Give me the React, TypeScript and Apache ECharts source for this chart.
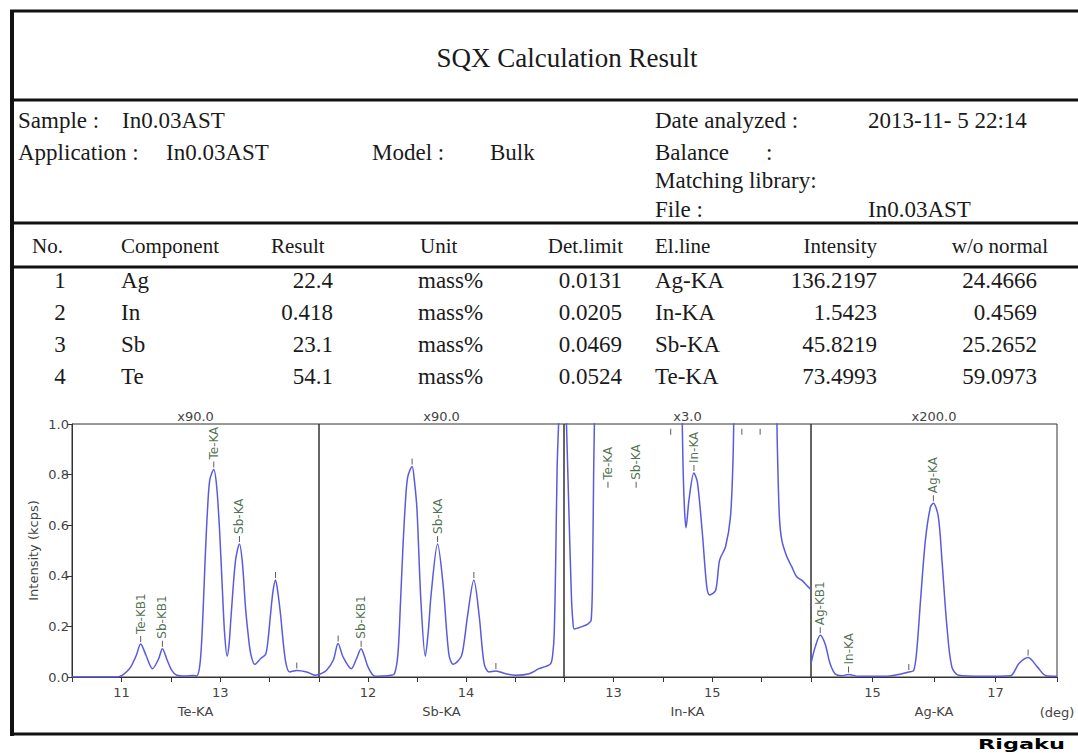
import React, { useEffect, useRef } from 'react';
import * as echarts from 'echarts';

// ---------- Report table data ----------
const reportTitle = 'SQX Calculation Result';
const tableHeaders = ['No.', 'Component', 'Result', 'Unit', 'Det.limit', 'El.line', 'Intensity', 'w/o normal'];
const rowNo = ['1', '2', '3', '4'];
const components = ['Ag', 'In', 'Sb', 'Te'];
const results = ['22.4', '0.418', '23.1', '54.1'];
const units = ['mass%', 'mass%', 'mass%', 'mass%'];
const detLimits = ['0.0131', '0.0205', '0.0469', '0.0524'];
const elLines = ['Ag-KA', 'In-KA', 'Sb-KA', 'Te-KA'];
const intensities = ['136.2197', '1.5423', '45.8219', '73.4993'];
const woNormal = ['24.4666', '0.4569', '25.2652', '59.0973'];

// ---------- Spectrum data (deg, kcps) ----------
const teX = [10.0, 10.5, 10.9, 11.0, 11.1, 11.19, 11.3, 11.39, 11.5, 11.63, 11.75, 11.83, 11.92, 12.02, 12.12, 12.3, 12.45, 12.52, 12.59, 12.64, 12.69, 12.74, 12.79, 12.87, 12.93, 12.99, 13.05, 13.09, 13.14, 13.18, 13.22, 13.31, 13.39, 13.45, 13.51, 13.57, 13.62, 13.7, 13.82, 13.92, 13.97, 14.02, 14.07, 14.12, 14.17, 14.22, 14.32, 14.41, 14.55, 14.75, 14.92, 15.0];
const teY = [0, 0, 0, 0.005, 0.02, 0.04, 0.085, 0.13, 0.085, 0.033, 0.07, 0.112, 0.07, 0.026, 0.007, 0.004, 0.006, 0.004, 0.05, 0.2, 0.44, 0.65, 0.78, 0.82, 0.75, 0.57, 0.32, 0.17, 0.082, 0.13, 0.24, 0.46, 0.526, 0.45, 0.28, 0.16, 0.09, 0.05, 0.073, 0.09, 0.15, 0.25, 0.34, 0.383, 0.33, 0.25, 0.066, 0.02, 0.026, 0.02, 0.007, 0.01];

const sbX = [11.0, 11.15, 11.29, 11.39, 11.49, 11.66, 11.76, 11.86, 11.93, 12.0, 12.14, 12.3, 12.44, 12.54, 12.61, 12.66, 12.71, 12.76, 12.81, 12.9, 12.95, 13.0, 13.08, 13.17, 13.23, 13.29, 13.42, 13.53, 13.65, 13.74, 13.9, 13.97, 14.03, 14.16, 14.27, 14.37, 14.47, 14.61, 14.81, 15.02, 15.29, 15.49, 15.63, 15.73, 15.77, 15.8, 15.83, 15.86, 15.9, 15.95, 16.0];
const sbY = [0.01, 0.026, 0.066, 0.132, 0.08, 0.033, 0.07, 0.112, 0.08, 0.04, 0.003, 0.004, 0.006, 0.013, 0.09, 0.28, 0.5, 0.68, 0.79, 0.832, 0.77, 0.66, 0.3, 0.082, 0.18, 0.33, 0.526, 0.37, 0.09, 0.05, 0.08, 0.15, 0.24, 0.383, 0.24, 0.053, 0.02, 0.024, 0.013, 0.007, 0.013, 0.033, 0.042, 0.053, 0.09, 0.17, 0.45, 0.83, 1.05, 1.3, 1.5];

const inX = [12.0, 12.05, 12.1, 12.15, 12.18, 12.21, 12.35, 12.48, 12.55, 12.58, 12.6, 12.62, 12.7, 14.3, 14.39, 14.41, 14.44, 14.47, 14.53, 14.63, 14.7, 14.8, 14.89, 14.95, 15.07, 15.15, 15.27, 15.37, 15.42, 15.44, 15.5, 16.2, 16.3, 16.32, 16.36, 16.41, 16.51, 16.61, 16.71, 16.81, 16.91, 17.0];
const inY = [1.3, 1.0, 0.65, 0.32, 0.22, 0.19, 0.198, 0.209, 0.225, 0.44, 0.8, 1.05, 1.8, 1.8, 1.05, 0.83, 0.66, 0.59, 0.7, 0.806, 0.77, 0.57, 0.357, 0.324, 0.343, 0.462, 0.515, 0.634, 0.85, 1.05, 1.6, 1.6, 1.1, 0.9, 0.634, 0.54, 0.476, 0.436, 0.396, 0.383, 0.363, 0.345];

const agX = [14.0, 14.07, 14.15, 14.23, 14.31, 14.39, 14.5, 14.61, 14.77, 15.0, 15.21, 15.42, 15.59, 15.67, 15.72, 15.78, 15.86, 15.94, 15.99, 16.07, 16.13, 16.21, 16.29, 16.4, 16.78, 17.24, 17.38, 17.53, 17.68, 17.82, 18.0];
const agY = [0.053, 0.12, 0.165, 0.13, 0.053, 0.013, 0.005, 0.01, 0.003, 0.003, 0.003, 0.01, 0.02, 0.026, 0.106, 0.3, 0.54, 0.67, 0.687, 0.634, 0.46, 0.2, 0.04, 0.007, 0.003, 0.005, 0.053, 0.077, 0.04, 0.005, 0.003];

// peak markers: [deg, kcps, label]
const teMarks: [number, number, string][] = [[11.39, 0.13, 'Te-KB1'], [11.83, 0.112, 'Sb-KB1'], [12.87, 0.82, 'Te-KA'], [13.39, 0.526, 'Sb-KA'], [14.12, 0.383, ''], [14.55, 0.026, '']];
const sbMarks: [number, number, string][] = [[11.39, 0.132, ''], [11.86, 0.112, 'Sb-KB1'], [12.9, 0.832, ''], [13.42, 0.526, 'Sb-KA'], [14.16, 0.383, ''], [14.61, 0.024, '']];
const inMarks: [number, number, string][] = [[12.89, 0.74, 'Te-KA'], [13.46, 0.74, 'Sb-KA'], [14.63, 0.806, 'In-KA'], [14.16, 0.95, ''], [15.6, 0.95, ''], [15.97, 0.95, '']];
const agMarks: [number, number, string][] = [[14.15, 0.165, 'Ag-KB1'], [14.61, 0.01, 'In-KA'], [15.59, 0.02, ''], [15.99, 0.687, 'Ag-KA'], [17.53, 0.077, '']];

const panelNames = ['Te-KA', 'Sb-KA', 'In-KA', 'Ag-KA'];
const panelScales = ['x90.0', 'x90.0', 'x3.0', 'x200.0'];
const panelMin = [10, 11, 12, 14];
const panelMax = [15, 16, 17, 18];
const panelLabeled = [[11, 13], [12, 14], [13, 15], [15, 17]];
const panelX = [teX, sbX, inX, agX];
const panelY = [teY, sbY, inY, agY];
const panelMarks = [teMarks, sbMarks, inMarks, agMarks];
const yName = 'Intensity (kcps)';

// layout
const gridBoxes = [
  { left: 72, width: 247 },
  { left: 319, width: 245 },
  { left: 564, width: 247 },
  { left: 811, width: 246 },
];
const GTOP = 424;
const GH = 253;

const SERIF = '"Liberation Serif", "Times New Roman", serif';
const SANS = '"DejaVu Sans", Verdana, sans-serif';
const INK = '#1a1a1a';
const LINE = '#5a5ade';

function txt(text: string, x: number, y: number, size: number, align: string, extra: any = {}) {
  return {
    type: 'text',
    x,
    y,
    silent: true,
    style: {
      text,
      font: `${size}px ${SERIF}`,
      fill: INK,
      align,
      textAlign: align,
      verticalAlign: 'middle',
      textVerticalAlign: 'middle',
      ...extra,
    },
  };
}

function hline(y: number, w: number, x1 = 10, x2 = 1078) {
  return { type: 'line', silent: true, shape: { x1, y1: y, x2, y2: y }, style: { stroke: '#111', lineWidth: w } };
}

function buildOption() {
  const graphic: any[] = [];
  // frame
  graphic.push(hline(11, 3));
  graphic.push(hline(100, 3));
  graphic.push(hline(223, 3));
  graphic.push(hline(267, 3));
  graphic.push(hline(734, 3));
  graphic.push({ type: 'line', silent: true, shape: { x1: 12, y1: 10, x2: 12, y2: 736 }, style: { stroke: '#111', lineWidth: 4 } });

  // title
  graphic.push(txt(reportTitle, 567, 58, 27, 'center'));

  // info block
  graphic.push(txt('Sample :', 18, 120, 23, 'left'));
  graphic.push(txt('In0.03AST', 122, 120, 23, 'left'));
  graphic.push(txt('Application :', 18, 152, 23, 'left'));
  graphic.push(txt('In0.03AST', 166, 152, 23, 'left'));
  graphic.push(txt('Model :', 372, 152, 23, 'left'));
  graphic.push(txt('Bulk', 490, 152, 23, 'left'));
  graphic.push(txt('Date analyzed :', 655, 120, 23, 'left'));
  graphic.push(txt('2013-11- 5 22:14', 868, 120, 23, 'left'));
  graphic.push(txt('Balance', 655, 152, 23, 'left'));
  graphic.push(txt(':', 766, 152, 23, 'left'));
  graphic.push(txt('Matching library:', 655, 180, 23, 'left'));
  graphic.push(txt('File :', 655, 209, 23, 'left'));
  graphic.push(txt('In0.03AST', 868, 209, 23, 'left'));

  // table header
  const hx = [32, 121, 271, 420, 623, 655, 877, 1048];
  const ha = ['left', 'left', 'left', 'left', 'right', 'left', 'right', 'right'];
  tableHeaders.forEach((h, i) => graphic.push(txt(h, hx[i], 246, 21, ha[i])));

  // table rows
  const rowY = [280, 312, 344, 376];
  const cols = [rowNo, components, results, units, detLimits, elLines, intensities, woNormal];
  const cx = [60, 121, 333, 418, 622, 655, 877, 1037];
  const ca = ['center', 'left', 'right', 'left', 'right', 'left', 'right', 'right'];
  cols.forEach((col, c) => col.forEach((v, r) => graphic.push(txt(v, cx[c], rowY[r], 23, ca[c]))));

  // panel scale labels
  panelScales.forEach((s, i) => {
    graphic.push({
      type: 'text', silent: true,
      x: gridBoxes[i].left + gridBoxes[i].width / 2, y: 416,
      style: { text: s, font: `13px ${SANS}`, fill: '#444', align: 'center', textAlign: 'center', verticalAlign: 'middle', textVerticalAlign: 'middle' },
    });
  });
  graphic.push({
    type: 'text', silent: true, x: 1057, y: 712,
    style: { text: '(deg)', font: `13px ${SANS}`, fill: '#444', align: 'center', textAlign: 'center', verticalAlign: 'middle', textVerticalAlign: 'middle' },
  });
  // logo text
  graphic.push({
    type: 'text', silent: true, x: 978, y: 744, scaleX: 1.6,
    style: { text: 'Rigaku', font: `900 14px ${SANS}`, fill: '#000', align: 'left', textAlign: 'left', verticalAlign: 'middle', textVerticalAlign: 'middle' },
  });

  const grid = gridBoxes.map((g) => ({
    left: g.left, top: GTOP, width: g.width, height: GH,
    show: true, borderColor: '#333', borderWidth: 1, backgroundColor: 'transparent',
    containLabel: false,
  }));

  const xAxis = panelNames.map((n, i) => ({
    type: 'value', gridIndex: i, min: panelMin[i], max: panelMax[i], interval: 1,
    name: n, nameLocation: 'middle', nameGap: 28,
    nameTextStyle: { fontFamily: SANS, fontSize: 13, color: '#444' },
    axisLine: { show: true, lineStyle: { color: '#333', width: 1 } },
    axisTick: { show: true, inside: false, length: 5, lineStyle: { color: '#333' } },
    axisLabel: {
      show: true, margin: 9, fontFamily: SANS, fontSize: 13, color: '#444',
      formatter: (v: number) => (panelLabeled[i].includes(v) ? String(v) : ''),
    },
    splitLine: { show: false },
  }));

  const yAxis = panelNames.map((_, i) => ({
    type: 'value', gridIndex: i, min: 0, max: 1, interval: 0.2,
    show: i === 0,
    name: i === 0 ? yName : '',
    nameLocation: 'middle', nameGap: 32, nameRotate: 90,
    nameTextStyle: { fontFamily: SANS, fontSize: 13, color: '#444' },
    axisLine: { show: true, lineStyle: { color: '#333', width: 1 } },
    axisTick: { show: true, inside: false, length: 5, lineStyle: { color: '#333' } },
    axisLabel: { show: true, margin: 3, fontFamily: SANS, fontSize: 13, color: '#444', formatter: (v: number) => v.toFixed(1) },
    splitLine: { show: false },
  }));

  const series: any[] = [];
  panelNames.forEach((n, i) => {
    series.push({
      type: 'line', name: n, xAxisIndex: i, yAxisIndex: i,
      data: panelX[i].map((x, k) => [x, panelY[i][k]]),
      showSymbol: false, symbol: 'none', smooth: 0.3, clip: true,
      lineStyle: { color: LINE, width: 1.5 },
      silent: true,
    });
    series.push({
      type: 'scatter', name: n + ' peaks', xAxisIndex: i, yAxisIndex: i,
      data: panelMarks[i].map((m) => ({ value: [m[0], m[1]], name: m[2] })),
      symbol: 'rect', symbolSize: [1, 6], symbolOffset: [0, -5],
      itemStyle: { color: '#333' },
      clip: false, silent: true,
      label: {
        show: true, formatter: '{b}', position: 'top', distance: 2, rotate: 90,
        align: 'left', verticalAlign: 'middle',
        fontFamily: SANS, fontSize: 12, color: '#1f4d1f',
      },
    });
  });

  return {
    animation: false,
    backgroundColor: '#fff',
    textStyle: { fontFamily: SANS },
    grid, xAxis, yAxis, series, graphic,
  };
}

export default function App() {
  const ref = useRef<HTMLDivElement>(null);
  useEffect(() => {
    document.body.style.margin = '0';
    const chart = echarts.init(ref.current!, null, { renderer: 'svg' });
    chart.setOption(buildOption() as any);
    return () => chart.dispose();
  }, []);
  return <div ref={ref} style={{ width: 1078, height: 753, background: '#fff' }} />;
}
